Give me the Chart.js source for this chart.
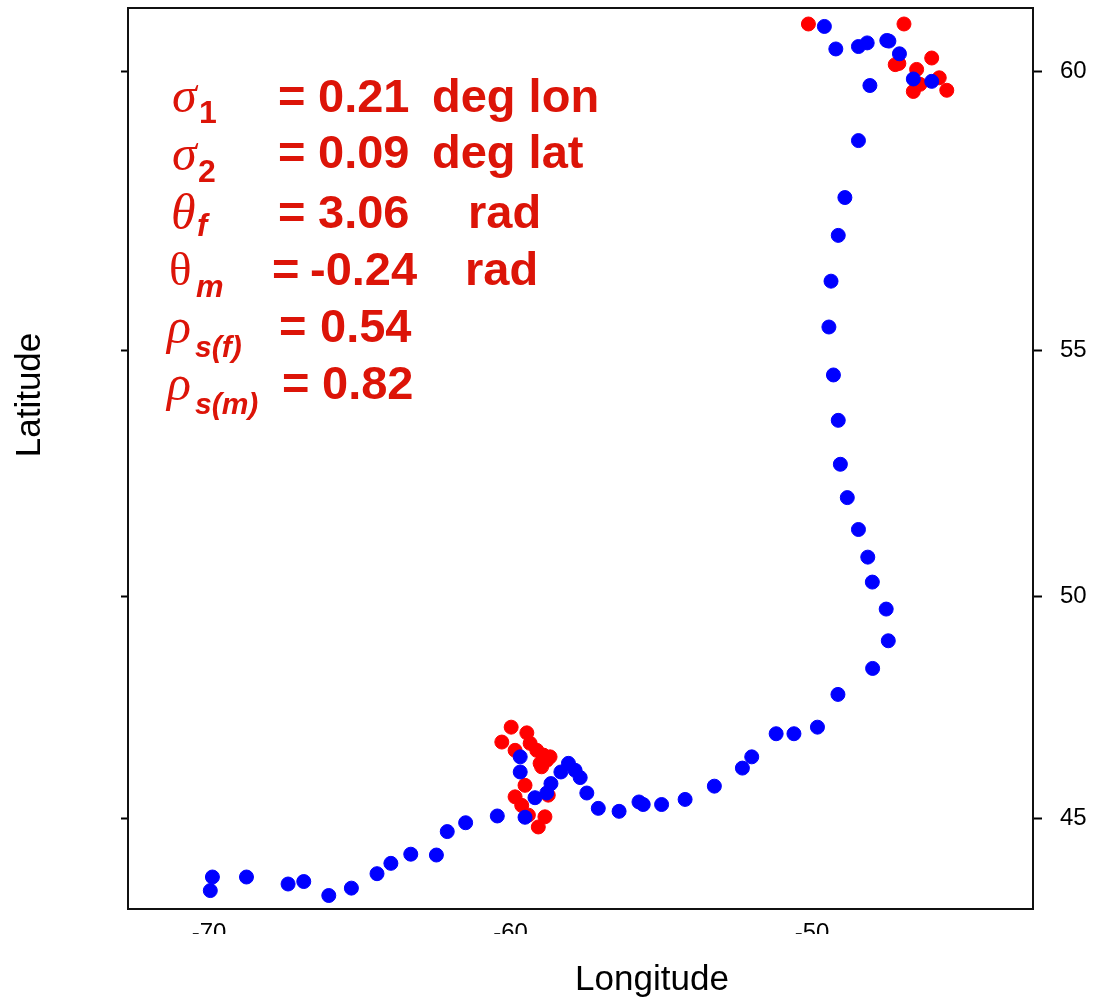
<!DOCTYPE html>
<html>
<head>
<meta charset="utf-8">
<script src="https://cdn.jsdelivr.net/npm/chart.js@4.4.1/dist/chart.umd.min.js"></script>
<style>
  html, body { margin: 0; padding: 0; background: #fff; }
  #wrap { width: 1093px; height: 997px; }
</style>
</head>
<body>
<div id="wrap"><canvas id="chart" width="1093" height="997"></canvas></div>
<script>
'use strict';

// Track fixes in degrees
const blueLon = [-69.96, -69.89, -68.76, -67.38, -66.86, -66.03, -65.28, -64.43, -63.97, -63.31,
  -62.46, -62.10, -61.49, -60.44, -59.52, -59.19, -58.80, -58.66, -59.68, -59.68,
  -58.33, -58.08, -57.86, -57.69, -57.47, -57.09, -56.40, -55.74, -55.60, -54.99,
  -54.21, -53.24, -52.31, -52.00, -51.19, -50.60, -49.82, -49.14, -47.99, -47.47,
  -47.54, -48.00, -48.15, -48.46, -48.83, -49.06, -49.13, -49.29, -49.44, -49.37,
  -49.13, -48.91, -48.46, -48.08, -46.64, -46.03, -47.10, -47.52, -47.45, -48.17,
  -48.46, -49.21, -49.59];
const blueLat = [43.26, 43.59, 43.59, 43.42, 43.48, 43.14, 43.32, 43.67, 43.92, 44.14,
  44.12, 44.68, 44.89, 45.05, 45.02, 45.48, 45.59, 45.81, 46.43, 46.08,
  46.08, 46.28, 46.12, 45.95, 45.59, 45.23, 45.16, 45.38, 45.32, 45.32,
  45.44, 45.75, 46.17, 46.43, 46.96, 46.96, 47.11, 47.85, 48.43, 49.04,
  49.73, 50.31, 50.84, 51.42, 52.08, 52.76, 53.64, 54.53, 55.45, 56.31,
  57.15, 57.83, 58.83, 59.77, 59.88, 59.84, 60.30, 60.52, 60.51, 60.48,
  60.42, 60.38, 60.75];

const redLon = [-50.12, -46.95, -47.24, -47.12, -46.03, -46.53, -46.42, -46.64, -45.78, -45.53,
  -59.98, -60.29, -59.46, -59.85, -59.35, -59.13, -58.91, -58.80, -58.69, -59.02,
  -58.97, -59.52, -59.85, -59.63, -59.41, -58.86, -59.08, -58.75];
const redLat = [60.79, 60.79, 60.12, 60.14, 60.23, 60.04, 59.79, 59.67, 59.90, 59.69,
  47.11, 46.77, 46.98, 46.58, 46.74, 46.58, 46.47, 46.35, 46.43, 46.28,
  46.20, 45.77, 45.50, 45.30, 45.07, 45.03, 44.79, 45.54];

const lonTicks = [-70, -60, -50];
const latTicks = [45, 50, 55, 60];
const lonRange = [-72.69, -42.67];
const latRange = [42.81, 61.05];

// Mercator northing, the plot's latitude axis is projected
function merc(lat) { return Math.log(Math.tan(Math.PI / 4 + lat * Math.PI / 360)); }

function toPoints(lons, lats) { return lons.map((x, i) => ({ x: x, y: merc(lats[i]) })); }

const RED_TXT = '#dc1408';
const SANS = '"Liberation Sans", Arial, sans-serif';
const SERIF = '"Liberation Serif", "Times New Roman", serif';

function txt(ctx, s, x, y, font) { ctx.font = font; ctx.fillText(s, x, y); }

const overlay = {
  id: 'overlay',
  afterDraw(chart) {
    const { ctx, chartArea: a } = chart;
    ctx.save();
    // lower half of the longitude labels is cut off in the source
    ctx.fillStyle = '#fff';
    ctx.fillRect(a.left - 40, a.bottom + 25, a.right - a.left + 80, 20);

    ctx.strokeStyle = '#111';
    ctx.lineWidth = 2;
    ctx.strokeRect(a.left, a.top, a.right - a.left, a.bottom - a.top);

    // axis titles
    ctx.fillStyle = '#000';
    ctx.textAlign = 'center';
    ctx.textBaseline = 'alphabetic';
    txt(ctx, 'Longitude', 652, 990, '35px ' + SANS);
    ctx.save();
    ctx.translate(40, 395);
    ctx.rotate(-Math.PI / 2);
    txt(ctx, 'Latitude', 0, 0, '35px ' + SANS);
    ctx.restore();

    // fitted parameters
    ctx.textAlign = 'left';
    ctx.fillStyle = RED_TXT;
    const big = 'bold 47px ' + SANS;
    const sub = 'bold 32px ' + SANS;
    const subIt = 'bold italic 31px ' + SANS;
    const greek = 'italic 50px ' + SERIF;

    txt(ctx, 'σ', 172, 112, greek);
    txt(ctx, '1', 199, 123, sub);
    txt(ctx, '=', 278, 112, big);
    txt(ctx, '0.21', 318, 112, big);
    txt(ctx, 'deg lon', 432, 112, big);

    txt(ctx, 'σ', 172, 170, greek);
    txt(ctx, '2', 198, 182, sub);
    txt(ctx, '=', 278, 168, big);
    txt(ctx, '0.09', 318, 168, big);
    txt(ctx, 'deg lat', 432, 168, big);

    txt(ctx, 'θ', 171, 229, greek);
    txt(ctx, 'f', 197, 236, subIt);
    txt(ctx, '=', 278, 228, big);
    txt(ctx, '3.06', 318, 228, big);
    txt(ctx, 'rad', 468, 228, big);

    txt(ctx, 'θ', 169, 285, '47px ' + SERIF);
    txt(ctx, 'm', 196, 297, subIt);
    txt(ctx, '=', 272, 285, big);
    txt(ctx, '-0.24', 310, 285, big);
    txt(ctx, 'rad', 465, 285, big);

    txt(ctx, 'ρ', 167, 343, greek);
    txt(ctx, 's(f)', 195, 357, 'bold italic 30px ' + SANS);
    txt(ctx, '=', 279, 342, big);
    txt(ctx, '0.54', 320, 342, big);

    txt(ctx, 'ρ', 167, 400, greek);
    txt(ctx, 's(m)', 195, 414, 'bold italic 30px ' + SANS);
    txt(ctx, '=', 282, 399, big);
    txt(ctx, '0.82', 322, 399, big);
    ctx.restore();
  }
};

function latScale(pos) {
  const right = pos === 'right';
  return {
    type: 'linear',
    position: pos,
    min: merc(latRange[0]),
    max: merc(latRange[1]),
    afterBuildTicks: s => { s.ticks = latTicks.map(v => ({ value: merc(v) })); },
    afterFit: s => { s.width = right ? 60 : 128; s.paddingTop = 0; s.paddingBottom = 0; },
    grid: { drawOnChartArea: false, drawTicks: true, tickLength: right ? 9 : 7, tickWidth: 2, color: '#000' },
    border: { display: false },
    ticks: {
      display: right,
      padding: 18,
      color: '#000',
      font: { family: SANS, size: 24 },
      callback: (v, i) => String(latTicks[i])
    }
  };
}

new Chart(document.getElementById('chart'), {
  type: 'scatter',
  data: {
    datasets: [
      { label: 'blue', data: toPoints(blueLon, blueLat), yAxisID: 'yR',
        pointRadius: 7, pointBorderWidth: 1, backgroundColor: '#0000ff', borderColor: '#0000ff' },
      { label: 'red', data: toPoints(redLon, redLat), yAxisID: 'yR',
        pointRadius: 7, pointBorderWidth: 1, backgroundColor: '#ff0000', borderColor: '#ff0000' }
    ]
  },
  options: {
    responsive: false,
    animation: false,
    devicePixelRatio: 1,
    layout: { padding: { left: 0, right: 0, top: 5, bottom: 0 } },
    plugins: { legend: { display: false }, tooltip: { enabled: false } },
    scales: {
      x: {
        type: 'linear',
        position: 'bottom',
        min: lonRange[0],
        max: lonRange[1],
        afterBuildTicks: s => { s.ticks = lonTicks.map(v => ({ value: v })); },
        afterFit: s => { s.height = 88; s.paddingLeft = 0; s.paddingRight = 0; },
        grid: { display: false },
        border: { display: false },
        ticks: { padding: 2, color: '#000', maxRotation: 0, autoSkip: false, font: { family: SANS, size: 24 } }
      },
      yL: latScale('left'),
      yR: latScale('right')
    }
  },
  plugins: [overlay]
});
</script>
</body>
</html>
